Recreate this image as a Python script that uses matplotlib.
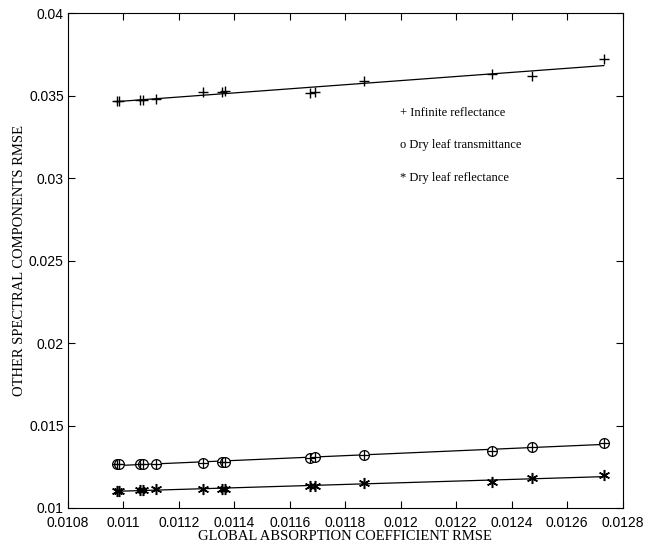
import numpy as np
import matplotlib
matplotlib.use("Agg")
import matplotlib.pyplot as plt
from matplotlib.ticker import FuncFormatter

# --- datos ---
x_abs = [0.010975, 0.010985, 0.011060, 0.011072, 0.011117, 0.011286, 0.011355,
         0.011365, 0.011672, 0.011690, 0.011867, 0.012330, 0.012472, 0.012732]
y_inf_refl = [0.03468, 0.03470, 0.03472, 0.03475, 0.03477, 0.03520, 0.03523,
              0.03527, 0.03518, 0.03520, 0.03590, 0.03630, 0.03620, 0.03720]
y_dry_trans = [0.01265, 0.01265, 0.01267, 0.01267, 0.01268, 0.01275, 0.01276,
               0.01276, 0.01306, 0.01309, 0.01321, 0.01347, 0.01372, 0.01394]
y_dry_refl = [0.01105, 0.01105, 0.01109, 0.01109, 0.01113, 0.01113, 0.01113,
              0.01113, 0.01133, 0.01135, 0.01153, 0.01156, 0.01180, 0.01200]

legend_labels = ["+ Infinite reflectance", "o Dry leaf transmittance", "* Dry leaf reflectance"]
x_ticks = [0.0108, 0.011, 0.0112, 0.0114, 0.0116, 0.0118, 0.012, 0.0122, 0.0124, 0.0126, 0.0128]
y_ticks = [0.01, 0.015, 0.02, 0.025, 0.03, 0.035, 0.04]

serif = "Liberation Serif"
sans = "Liberation Sans"

fig = plt.figure(figsize=(6.5, 5.5), dpi=100)
ax = fig.add_axes([0.1046, 0.0764, 0.8534, 0.8996])

x = np.array(x_abs)
xl = np.array([x.min(), x.max()])

# --- rectas de ajuste + marcadores ---
for ys in (y_inf_refl, y_dry_trans, y_dry_refl):
    a, b = np.polyfit(x, ys, 1)
    ax.plot(xl, a * xl + b, color="black", lw=0.9)

ax.plot(x, y_inf_refl, ls="none", marker="+", ms=7, mew=1.0, color="black")
ax.plot(x, y_dry_trans, ls="none", marker="o", ms=7, mew=0.9, mfc="white", mec="black")
ax.plot(x, y_dry_trans, ls="none", marker="+", ms=7, mew=0.9, color="black")
ax.plot(x, y_dry_refl, ls="none", marker=(6, 2, 0), ms=8, mew=1.1, color="black")

# --- leyenda como texto ---
for i, lab in enumerate(legend_labels):
    ax.text(0.598, 0.799 - i * 0.066, lab, transform=ax.transAxes,
            fontfamily=serif, fontsize=9, va="center")

ax.set_xlim(0.0108, 0.0128)
ax.set_ylim(0.01, 0.04)
ax.set_xticks(x_ticks)
ax.set_yticks(y_ticks)
fmt = FuncFormatter(lambda v, p: "%g" % round(v, 6))
ax.xaxis.set_major_formatter(fmt)
ax.yaxis.set_major_formatter(fmt)
ax.tick_params(direction="in", top=True, right=True, length=5, width=0.8,
               labelsize=10)
ax.tick_params(axis="x", pad=6)
ax.tick_params(axis="y", pad=3)
for lab in ax.get_xticklabels() + ax.get_yticklabels():
    lab.set_fontfamily(sans)
for s in ax.spines.values():
    s.set_linewidth(0.8)

ax.set_xlabel("GLOBAL ABSORPTION COEFFICIENT RMSE", fontfamily=serif,
              fontsize=10.5, labelpad=0)
ax.set_ylabel("OTHER SPECTRAL COMPONENTS RMSE", fontfamily=serif,
              fontsize=10.5, labelpad=2)

fig.savefig("out.png", dpi=100)
